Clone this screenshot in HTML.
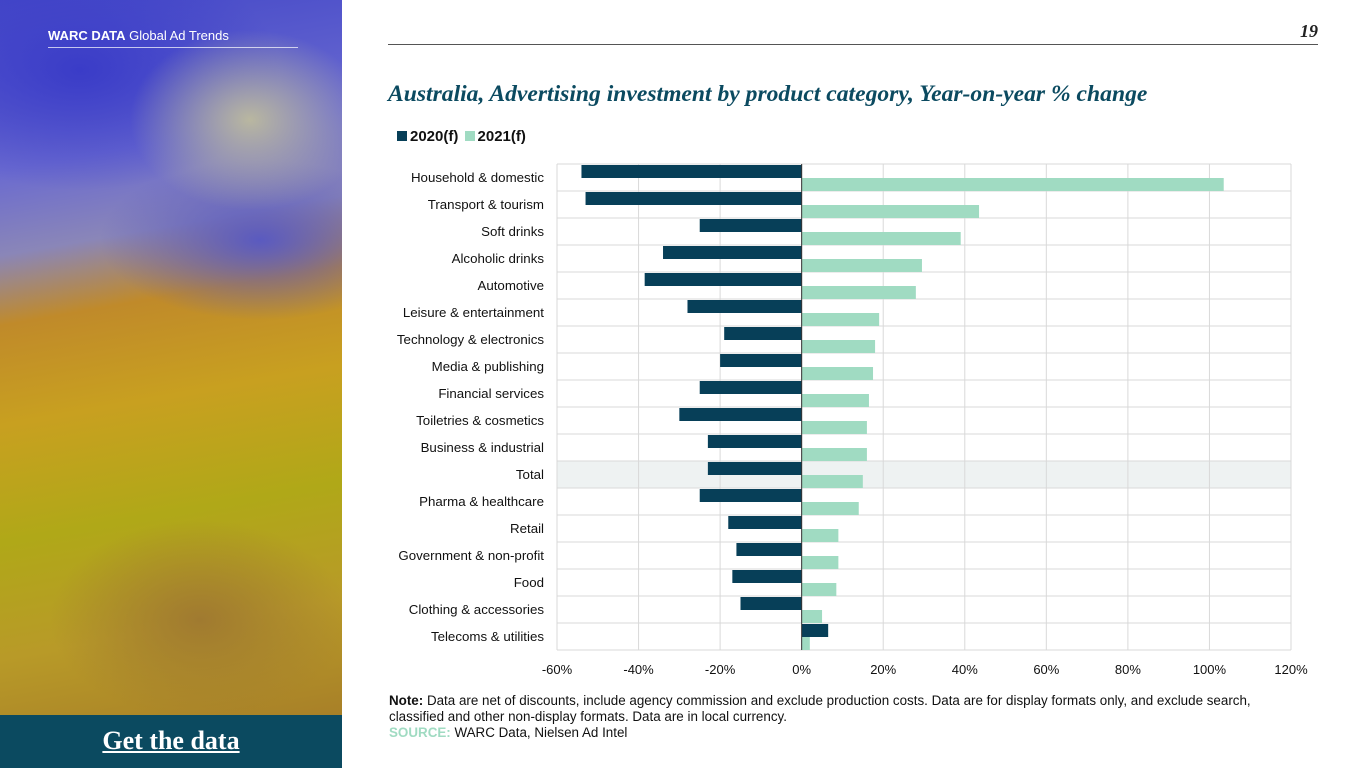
<!DOCTYPE html>
<html><head><meta charset="utf-8"><style>
body{margin:0;width:1365px;height:768px;position:relative;background:#fff;font-family:"Liberation Sans",sans-serif;overflow:hidden}
.abs{position:absolute}
</style></head><body>
<div class="abs" style="left:0;top:0;width:342px;height:715px;background:
radial-gradient(ellipse 120px 90px at 250px 120px,#b9b7a0 0%,rgba(170,170,150,0) 100%),
radial-gradient(ellipse 200px 120px at 80px 70px,#3a3cc8 0%,rgba(60,60,200,0) 100%),
radial-gradient(ellipse 160px 80px at 260px 240px,#5a5ac0 0%,rgba(90,90,190,0) 100%),
radial-gradient(ellipse 150px 100px at 200px 620px,#a07a30 0%,rgba(160,120,48,0) 100%),
linear-gradient(170deg,#4448c8 0%,#6a6ad0 22%,#8a86b8 33%,#c08a2a 42%,#c8a020 55%,#b0a818 70%,#b89a28 85%,#a88028 100%);"></div>
<div class="abs" style="left:48px;top:28px;color:#fff;font-size:13px"><b>WARC DATA</b> Global Ad Trends</div>
<div class="abs" style="left:48px;top:47px;width:250px;height:1px;background:rgba(255,255,255,.7)"></div>
<div class="abs" style="left:0;top:715px;width:342px;height:53px;background:#0b4a60;color:#fff;font-family:'Liberation Serif',serif;font-weight:bold;font-size:26px;text-align:center;line-height:52px;text-decoration:underline">Get the data</div>
<div class="abs" style="left:1290px;top:21px;width:28px;text-align:right;font-family:'Liberation Serif',serif;font-style:italic;font-weight:bold;font-size:18px;color:#222">19</div>
<div class="abs" style="left:388px;top:44px;width:930px;height:1px;background:#555"></div>
<div class="abs" style="left:388px;top:81px;font-family:'Liberation Serif',serif;font-style:italic;font-weight:bold;font-size:23.6px;color:#0b4a60">Australia, Advertising investment by product category, Year-on-year % change</div>
<div class="abs" style="left:397px;top:128px;font-size:15px;font-weight:bold;color:#111">
<span><span style="display:inline-block;width:10px;height:10px;background:#073f58;margin-right:3px"></span>2020(f)</span>
<span style="margin-left:2px"><span style="display:inline-block;width:10px;height:10px;background:#a0dbc2;margin-right:3px"></span>2021(f)</span></div>
<svg class="abs" style="left:0;top:0" width="1365" height="768" id="chart"></svg>
<div class="abs" style="left:389px;top:693px;font-size:13.4px;line-height:16px;color:#111;width:885px"><b>Note:</b> Data are net of discounts, include agency commission and exclude production costs. Data are for display formats only, and exclude search, classified and other non-display formats. Data are in local currency.<br><b style="color:#a0dbc2">SOURCE:</b> WARC Data, Nielsen Ad Intel</div>
<script>
const categories=["Household & domestic","Transport & tourism","Soft drinks","Alcoholic drinks","Automotive","Leisure & entertainment","Technology & electronics","Media & publishing","Financial services","Toiletries & cosmetics","Business & industrial","Total","Pharma & healthcare","Retail","Government & non-profit","Food","Clothing & accessories","Telecoms & utilities"];
const values2020=[-54,-53,-25,-34,-38.5,-28,-19,-20,-25,-30,-23,-23,-25,-18,-16,-17,-15,6.5];
const values2021=[103.5,43.5,39,29.5,28,19,18,17.5,16.5,16,16,15,14,9,9,8.5,5,2];
const ticks=[-60,-40,-20,0,20,40,60,80,100,120];
const svg=document.getElementById('chart');const NS='http://www.w3.org/2000/svg';
const x0=557,x1=1291,y0=164,rh=27;
const xs=v=>x0+(v+60)/180*(x1-x0);
function mk(t,a){const e=document.createElementNS(NS,t);for(const k in a)e.setAttribute(k,a[k]);svg.appendChild(e);return e;}
const hl=mk('rect',{x:x0,y:y0+11*rh,width:x1-x0,height:rh,fill:'#eef2f2'});


ticks.forEach(t=>{const g=mk('line',{x1:xs(t),x2:xs(t),y1:y0,y2:y0+categories.length*rh,stroke:'#d9d9d9'});


const l=mk('text',{x:xs(t),y:674,'text-anchor':'middle','font-size':13,fill:'#111'});l.textContent=t+'%';

});
for(let i=0;i<=categories.length;i++){const g=mk('line',{x1:x0,x2:x1,y1:y0+i*rh,y2:y0+i*rh,stroke:'#d9d9d9'});

}
categories.forEach((c,i)=>{const y=y0+i*rh;
const l=mk('text',{x:544,y:y+18,'text-anchor':'end','font-size':13.3,fill:'#111'});l.textContent=c;


const a=values2020[i],b=values2021[i];
const r1=mk('rect',{x:Math.min(xs(0),xs(a)),y:y+1,width:Math.abs(xs(a)-xs(0)),height:13,fill:'#073f58'});


const r2=mk('rect',{x:Math.min(xs(0),xs(b)),y:y+14,width:Math.abs(xs(b)-xs(0)),height:13,fill:'#a0dbc2'});

});
const z=mk('line',{x1:xs(0),x2:xs(0),y1:y0,y2:y0+categories.length*rh,stroke:'#333'});


</script>
</body></html>
